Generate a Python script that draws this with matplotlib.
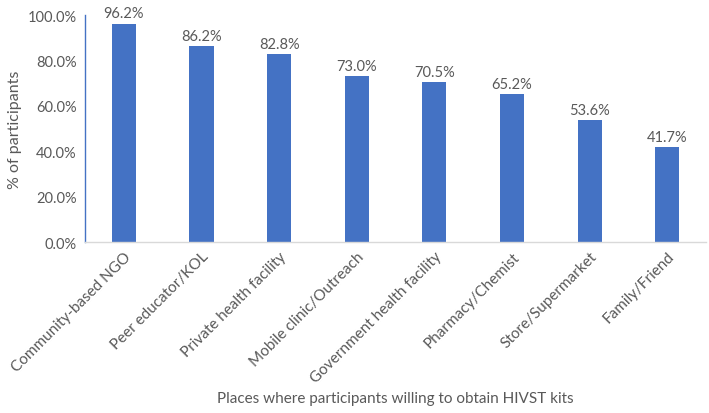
import numpy as np
import matplotlib.pyplot as plt
from matplotlib.ticker import PercentFormatter

places = ["Community-based NGO", "Peer educator/KOL", "Private health facility",
          "Mobile clinic/Outreach", "Government health facility", "Pharmacy/Chemist",
          "Store/Supermarket", "Family/Friend"]
pct = [96.2, 86.2, 82.8, 73.0, 70.5, 65.2, 53.6, 41.7]

plt.rcParams['font.family'] = ['Lato', 'DejaVu Sans']
txt = '#595959'

fig = plt.figure(figsize=(7.09, 4.14), dpi=100)
ax = fig.add_axes([0.12, 0.413, 0.876, 0.548])

x = np.arange(len(places))
bars = ax.bar(x, pct, width=0.31, color='#4472C4')
for xi, v in zip(x, pct):
    ax.text(xi, v + 1.5, f"{v:.1f}%", ha='center', va='bottom', fontsize=10.5, color=txt)

ax.set_xlim(-0.5, len(places) - 0.5)
ax.set_ylim(0, 100)
ax.set_yticks(np.arange(0, 101, 20))
ax.yaxis.set_major_formatter(PercentFormatter(decimals=1))
ax.set_xticks(x)
ax.set_xticklabels(places, rotation=45, ha='right', rotation_mode='anchor', fontsize=11, color=txt)
ax.tick_params(axis='y', labelsize=10.5, labelcolor=txt, length=0, pad=6)
ax.tick_params(axis='x', length=0, pad=5)

for s in ['top', 'right']:
    ax.spines[s].set_visible(False)
ax.spines['left'].set_color('#4472C4')
ax.spines['left'].set_linewidth(1.0)
ax.spines['bottom'].set_color('#D9D9D9')
ax.spines['bottom'].set_linewidth(1.0)

ax.set_ylabel("% of participants", fontsize=11.5, color=txt)
ax.set_xlabel("Places where participants willing to obtain HIVST kits", fontsize=11, color=txt, labelpad=4)

fig.savefig('out.png', dpi=100)
